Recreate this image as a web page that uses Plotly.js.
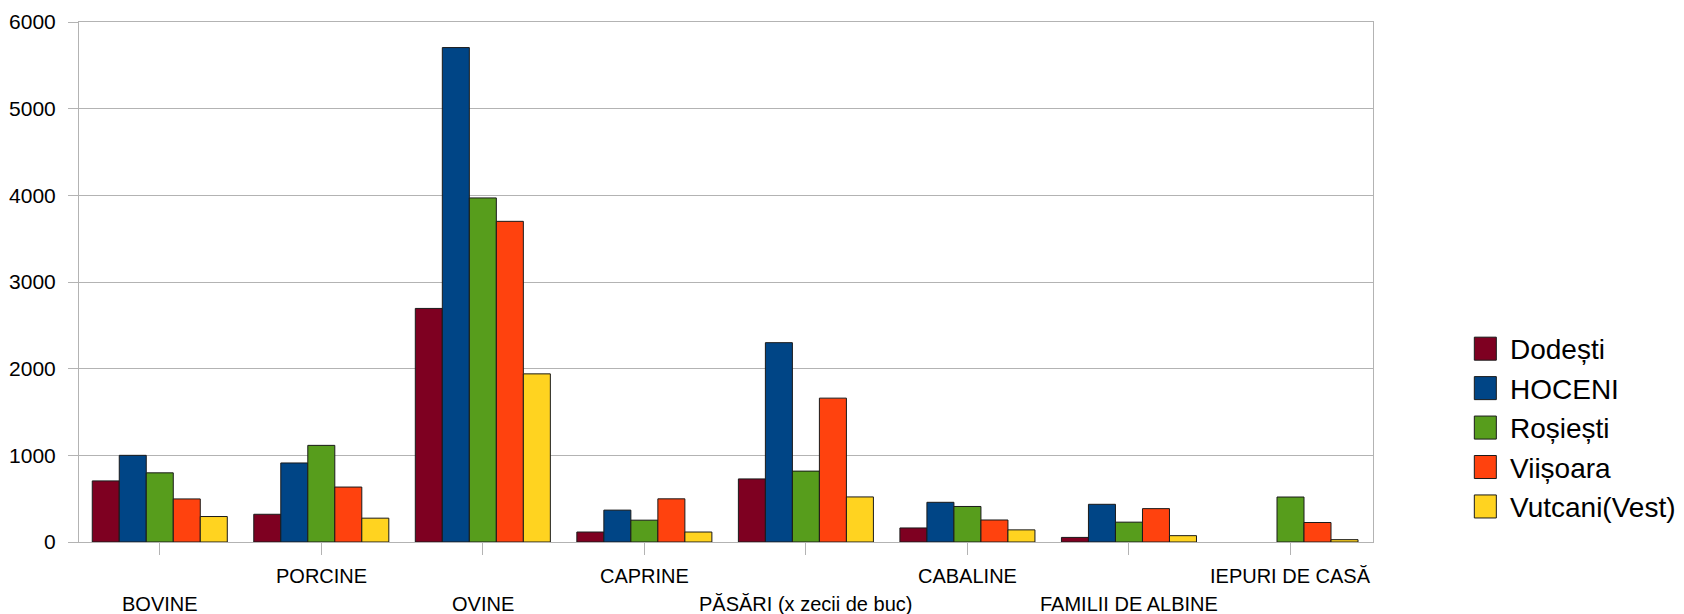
<!DOCTYPE html>
<html>
<head>
<meta charset="utf-8">
<script src="https://cdn.plot.ly/plotly-3.0.1.min.js"></script>
<style>html,body{margin:0;padding:0;background:#fff;}#chart{width:1684px;height:614px;}</style>
</head>
<body>
<div id="chart"></div>
<script>
const categories = ["BOVINE","PORCINE","OVINE","CAPRINE","PĂSĂRI (x zecii de buc)","CABALINE","FAMILII DE ALBINE","IEPURI DE CASĂ"];
const seriesNames = ["Dodești","HOCENI","Roșiești","Viișoara","Vutcani(Vest)"];
const dodesti  = [705, 320, 2695, 115, 728, 162, 53, null];
const hoceni   = [1000, 912, 5705, 368, 2300, 458, 435, null];
const rosiesti = [798, 1115, 3970, 252, 818, 410, 229, 519];
const viisoara = [497, 634, 3700, 498, 1660, 254, 385, 225];
const vutcani  = [294, 275, 1940, 115, 520, 140, 73, 27];
const yTicks = [0, 1000, 2000, 3000, 4000, 5000, 6000];

const colors = ["#7e0021","#004586","#579d1c","#ff420e","#ffd320"];
const values = [dodesti, hoceni, rosiesti, viisoara, vutcani];
const FONT = "Liberation Sans, Arial, sans-serif";

// plot geometry in pixels
const W = 1684, H = 614;
const L = 79, R = 1372.7, T = 22.3, B = 541.7;
const px2x = p => (p - L) / (R - L);
const px2y = p => (B - p) / (B - T);

const traces = seriesNames.map((n, i) => ({
  type: "bar",
  name: n,
  x: categories,
  y: values[i],
  marker: {color: colors[i], line: {color: "#1a1a1a", width: 1}},
  showlegend: false,
  hoverinfo: "x+y+name"
}));

const annotations = [];
// category labels, staggered in two rows
categories.forEach((c, i) => {
  annotations.push({
    xref: "x", yref: "paper", x: c, y: px2y(i % 2 === 0 ? 604 : 575.5),
    text: c, showarrow: false, xanchor: "center", yanchor: "middle",
    font: {family: FONT, size: 20, color: "#000"}
  });
});

const shapes = [];
// custom legend
seriesNames.forEach((n, i) => {
  const cy = 348.6 + i * 39.4;
  shapes.push({
    type: "rect", xref: "paper", yref: "paper",
    x0: px2x(1474), x1: px2x(1496), y0: px2y(cy + 11.5), y1: px2y(cy - 11.5),
    fillcolor: colors[i], line: {color: "#1a1a1a", width: 1}
  });
  annotations.push({
    xref: "paper", yref: "paper", x: px2x(1508), y: px2y(cy + 1),
    text: n, showarrow: false, xanchor: "left", yanchor: "middle",
    font: {family: FONT, size: 28, color: "#000"}
  });
});

const layout = {
  width: W, height: H,
  margin: {l: L, r: W - R, t: T, b: H - B, pad: 0},
  paper_bgcolor: "#fff", plot_bgcolor: "#fff",
  barmode: "group", bargap: 0.164, bargroupgap: 0,
  font: {family: FONT, size: 20, color: "#000"},
  xaxis: {
    type: "category", showticklabels: false,
    ticks: "outside", ticklen: 12, tickcolor: "#b3b3b3", tickwidth: 1,
    showline: true, linecolor: "#b3b3b3", linewidth: 1, mirror: true,
    showgrid: false, zeroline: false, fixedrange: true
  },
  yaxis: {
    range: [0, 6000], tickvals: yTicks, ticktext: yTicks.map(String),
    ticks: "outside", ticklen: 10, tickcolor: "#b3b3b3", tickwidth: 1,
    ticklabelstandoff: 8,
    tickfont: {family: FONT, size: 21, color: "#000"},
    showline: true, linecolor: "#b3b3b3", linewidth: 1, mirror: true,
    showgrid: true, gridcolor: "#b3b3b3", gridwidth: 1,
    zeroline: false, fixedrange: true
  },
  annotations: annotations,
  shapes: shapes
};

Plotly.newPlot("chart", traces, layout, {displayModeBar: false, staticPlot: false});
</script>
</body>
</html>
